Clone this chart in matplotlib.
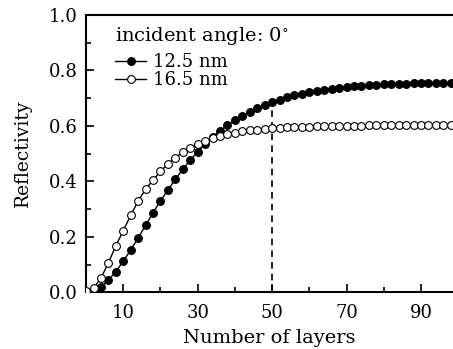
import numpy as np
import matplotlib
matplotlib.use("Agg")
import matplotlib.pyplot as plt

# --------------------------------------------
# DATA
# --------------------------------------------
layers = list(range(0, 100, 2))

refl_125 = [0.000, 0.005, 0.019, 0.045, 0.075, 0.113, 0.153, 0.197, 0.242, 0.287,
            0.330, 0.370, 0.408, 0.444, 0.477, 0.507, 0.535, 0.560, 0.583, 0.603,
            0.621, 0.637, 0.651, 0.664, 0.676, 0.686, 0.695, 0.703, 0.710, 0.716,
            0.722, 0.727, 0.731, 0.735, 0.738, 0.741, 0.743, 0.745, 0.747, 0.749,
            0.750, 0.751, 0.752, 0.753, 0.754, 0.754, 0.755, 0.755, 0.756, 0.756]

refl_165 = [0.004, 0.015, 0.052, 0.107, 0.168, 0.223, 0.278, 0.330, 0.372, 0.405,
            0.437, 0.463, 0.486, 0.505, 0.522, 0.535, 0.546, 0.556, 0.564, 0.571,
            0.576, 0.581, 0.584, 0.587, 0.589, 0.591, 0.593, 0.595, 0.596, 0.597,
            0.598, 0.599, 0.599, 0.600, 0.600, 0.601, 0.601, 0.601, 0.602, 0.602,
            0.602, 0.603, 0.603, 0.603, 0.603, 0.604, 0.604, 0.604, 0.604, 0.604]

series_labels = ["12.5 nm", "16.5 nm"]
legend_title = r"incident angle: $0^{\circ}$"
x_ticks = [10, 30, 50, 70, 90]
y_ticks = [0.0, 0.2, 0.4, 0.6, 0.8, 1.0]
marker_layer = 50
marker_value = 0.686

# --------------------------------------------
# PLOT
# --------------------------------------------
plt.rcParams['font.family'] = ['DejaVu Serif']
plt.rcParams['mathtext.fontset'] = 'dejavuserif'

fig = plt.figure(figsize=(4.53, 3.49), dpi=100)
ax = fig.add_axes([0.190, 0.162, 0.81, 0.795])

ax.plot(layers, refl_125, color='black', lw=1.0, marker='o', ms=5.6,
        mfc='black', mec='black', mew=0.8, label=series_labels[0], zorder=3)
ax.plot(layers, refl_165, color='black', lw=1.0, marker='o', ms=5.6,
        mfc='white', mec='black', mew=0.8, label=series_labels[1], zorder=4)

ax.vlines(marker_layer, 0, marker_value, colors='black', linestyles=(0, (4, 3)),
          lw=1.2, zorder=2)

ax.set_xlim(0, 98.6)
ax.set_ylim(0, 1.0)
ax.set_xticks(x_ticks)
ax.set_xticks([20, 40, 60, 80], minor=True)
ax.set_yticks(y_ticks)
ax.set_yticks([0.1, 0.3, 0.5, 0.7, 0.9], minor=True)
ax.set_yticklabels([f"{v:.1f}" for v in y_ticks])

ax.tick_params(which='both', direction='in', top=False, right=False,
               labelsize=13, width=1.2)
ax.tick_params(which='major', length=6)
ax.tick_params(which='minor', length=3.5)
ax.tick_params(axis='x', pad=8)
ax.tick_params(axis='y', pad=6)

for side in ['left', 'bottom', 'top']:
    ax.spines[side].set_linewidth(1.5)
ax.spines['right'].set_visible(False)

ax.set_xlabel("Number of layers", fontsize=14, labelpad=5)
ax.set_ylabel("Reflectivity", fontsize=13.5, labelpad=12)

# legend title drawn as text, entries as a legend below it
ax.text(0.079, 0.926, legend_title, transform=ax.transAxes, fontsize=14,
        ha='left', va='center')
ax.legend(loc='upper left', bbox_to_anchor=(0.080, 0.862), frameon=False,
          fontsize=13, handlelength=1.7, handletextpad=0.4,
          labelspacing=0.0, borderaxespad=0.0, borderpad=0.0)

fig.savefig("out.png", dpi=100)
